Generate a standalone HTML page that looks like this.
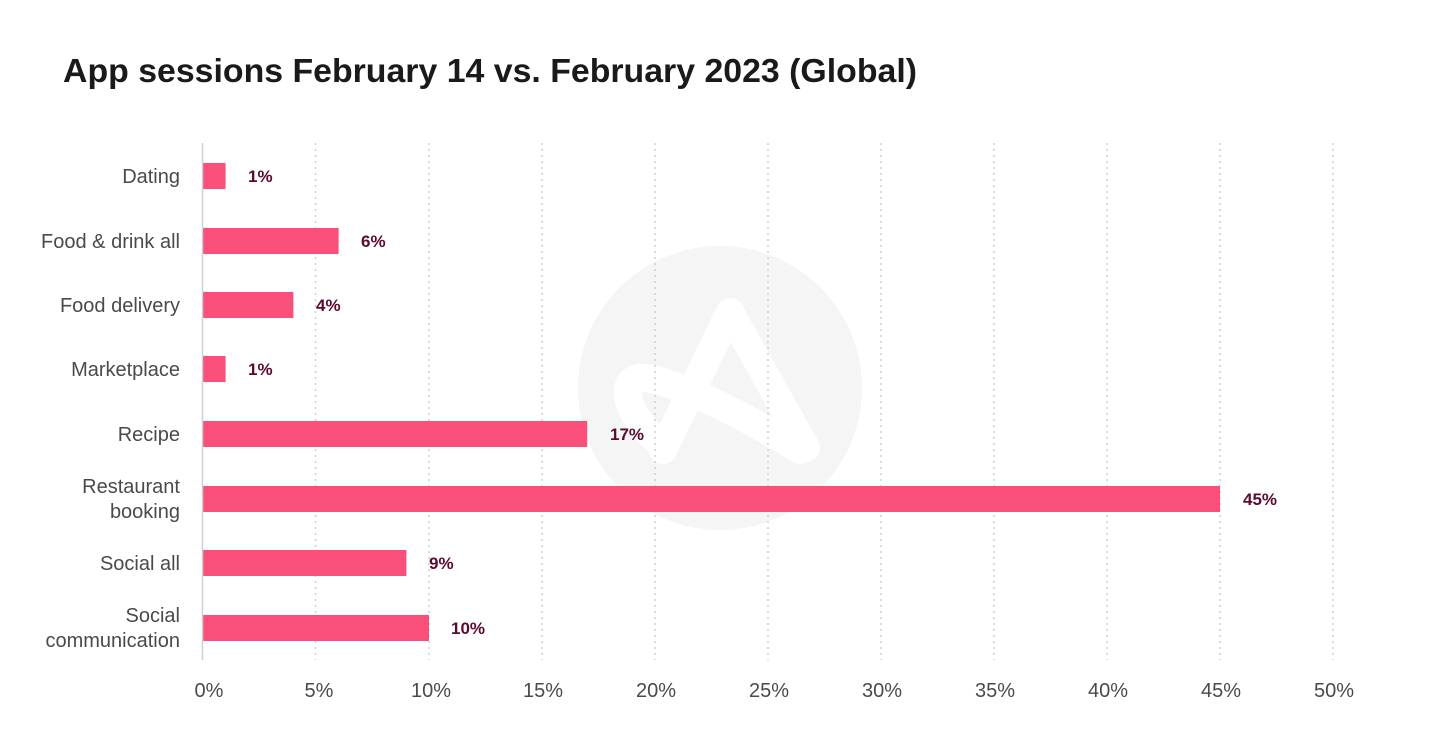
<!DOCTYPE html>
<html><head><meta charset="utf-8"><style>
html,body{margin:0;padding:0;background:#fff;}
svg{display:block;font-family:"Liberation Sans",sans-serif;}
</style></head><body>
<svg width="1440" height="756" viewBox="0 0 1440 756" xmlns="http://www.w3.org/2000/svg">
<rect width="1440" height="756" fill="#fff"/>
<text x="63" y="82" font-size="33" font-weight="bold" fill="#1a1a1a" textLength="854" lengthAdjust="spacingAndGlyphs">App sessions February 14 vs. February 2023 (Global)</text>
<circle cx="720" cy="388" r="142" fill="#f5f5f5"/>
<g fill="none" stroke="#fff" stroke-width="28" stroke-linecap="round" stroke-linejoin="round">
<path d="M663 450 L730 312 L806 448"/>
<path d="M800 450 C740 412 670 380 645 378 C618 376 622 412 662 445"/>
</g>
<g stroke="#cfcfcf" stroke-width="1.5" stroke-dasharray="2,4">
<line x1="315.5" y1="143" x2="315.5" y2="660"/>
<line x1="429" y1="143" x2="429" y2="660"/>
<line x1="542" y1="143" x2="542" y2="660"/>
<line x1="655" y1="143" x2="655" y2="660"/>
<line x1="768" y1="143" x2="768" y2="660"/>
<line x1="881" y1="143" x2="881" y2="660"/>
<line x1="994" y1="143" x2="994" y2="660"/>
<line x1="1107" y1="143" x2="1107" y2="660"/>
<line x1="1220" y1="143" x2="1220" y2="660"/>
<line x1="1333" y1="143" x2="1333" y2="660"/>
</g>
<g fill="#f8507a">
<rect x="203" y="163" width="22.6" height="26"/>
<rect x="203" y="228" width="135.6" height="26"/>
<rect x="203" y="292" width="90.4" height="26"/>
<rect x="203" y="356" width="22.6" height="26"/>
<rect x="203" y="421" width="384.2" height="26"/>
<rect x="203" y="486" width="1017" height="26"/>
<rect x="203" y="550" width="203.4" height="26"/>
<rect x="203" y="615" width="226" height="26"/>
</g>
<line x1="202.5" y1="143" x2="202.5" y2="660" stroke="#d0d0d0" stroke-width="1.5"/>
<g font-size="17" font-weight="bold" fill="#5c0a2e">
<text x="248" y="182">1%</text>
<text x="361" y="247">6%</text>
<text x="316" y="311">4%</text>
<text x="248" y="375">1%</text>
<text x="610" y="440">17%</text>
<text x="1243" y="505">45%</text>
<text x="429" y="569">9%</text>
<text x="451" y="634">10%</text>
</g>
<g font-size="20" fill="#4a4a4a" text-anchor="end">
<text x="180" y="183">Dating</text>
<text x="180" y="248">Food &amp; drink all</text>
<text x="180" y="312">Food delivery</text>
<text x="180" y="376">Marketplace</text>
<text x="180" y="441">Recipe</text>
<text x="180" y="493">Restaurant</text>
<text x="180" y="518">booking</text>
<text x="180" y="570">Social all</text>
<text x="180" y="622">Social</text>
<text x="180" y="647">communication</text>
</g>
<g font-size="20" fill="#4a4a4a" text-anchor="middle">
<text x="209" y="697">0%</text>
<text x="319" y="697">5%</text>
<text x="431" y="697">10%</text>
<text x="543" y="697">15%</text>
<text x="656" y="697">20%</text>
<text x="769" y="697">25%</text>
<text x="882" y="697">30%</text>
<text x="995" y="697">35%</text>
<text x="1108" y="697">40%</text>
<text x="1221" y="697">45%</text>
<text x="1334" y="697">50%</text>
</g>
</svg>
</body></html>
